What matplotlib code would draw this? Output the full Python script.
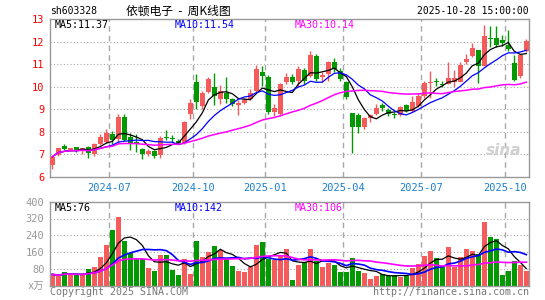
import matplotlib
matplotlib.use('Agg')
import matplotlib.pyplot as plt
import numpy as np
import pandas as pd

# weekly candles, 2024-04-22 .. 2025-10-27 (index = week number)
opens = [6.53, 6.97, 7.37, 7.20, 7.31, 7.13, 7.33, 7.04, 7.45, 7.56,
         7.92, 7.68, 8.67, 7.78, 7.56, 7.22, 7.04, 7.15, 6.97, 7.75,
         7.71, 7.60, 7.52, 8.79, 10.22, 9.13, 9.78, 9.97, 9.45, 9.70,
         9.45, 9.20, 9.30, 9.45, 9.80, 10.64, 10.41, 8.86, 8.80, 10.20,
         10.41, 10.27, 10.75, 10.46, 11.37, 10.45, 10.56, 11.10, 10.70, 10.22,
         8.85, 8.74, 8.20, 8.60, 8.79, 9.19, 8.96, 8.79, 8.74, 9.19,
         8.94, 9.13, 9.57, 10.16, 10.24, 10.10, 10.12, 10.22, 10.22, 11.11,
         11.36, 11.62, 10.93, 12.15, 12.17, 12.05, 11.85, 11.03, 10.47, 11.60]
closes = [6.90, 7.27, 7.24, 7.27, 7.15, 7.27, 7.07, 7.48, 7.78, 7.93,
          7.63, 8.64, 7.66, 7.46, 7.46, 7.04, 7.15, 6.93, 7.71, 7.72,
          7.68, 7.52, 8.43, 9.28, 9.31, 9.70, 10.35, 9.57, 9.82, 9.45,
          9.25, 9.30, 9.42, 9.72, 10.80, 10.46, 8.90, 9.04, 10.10, 10.44,
          10.22, 10.78, 10.27, 11.40, 10.34, 10.52, 11.08, 10.78, 10.34, 9.53,
          8.23, 8.23, 8.62, 8.74, 9.07, 9.04, 8.79, 8.76, 9.08, 8.94,
          9.31, 9.57, 10.16, 10.22, 10.20, 10.07, 10.37, 10.37, 10.96, 11.25,
          11.70, 10.92, 12.26, 12.10, 11.85, 11.95, 11.65, 10.30, 11.40, 12.04]
highs = [6.92, 7.30, 7.46, 7.30, 7.35, 7.30, 7.36, 7.50, 7.90, 8.12,
         8.05, 8.79, 8.77, 7.93, 7.89, 7.30, 7.25, 7.20, 7.80, 8.08,
         7.85, 7.70, 8.48, 9.45, 10.56, 9.80, 10.45, 10.60, 10.07, 10.41,
         9.50, 9.40, 9.50, 9.90, 10.96, 10.93, 10.50, 9.23, 10.15, 10.60,
         10.55, 10.93, 10.85, 11.60, 11.45, 10.65, 11.15, 11.25, 10.85, 10.27,
         8.85, 8.85, 8.67, 8.80, 9.23, 9.26, 9.04, 8.90, 9.13, 9.25,
         9.57, 9.72, 10.26, 10.70, 10.37, 10.27, 11.08, 10.74, 11.10, 11.47,
         11.95, 11.62, 12.73, 12.70, 12.70, 12.30, 12.50, 11.40, 11.45, 12.10]
lows = [6.35, 6.95, 7.20, 7.15, 7.12, 7.03, 6.85, 6.92, 7.40, 7.50,
        7.45, 7.56, 7.60, 7.20, 7.12, 6.78, 6.95, 6.85, 6.85, 7.63,
        7.55, 7.45, 7.48, 8.57, 9.00, 9.00, 9.70, 9.19, 9.23, 9.30,
        9.15, 8.75, 9.25, 9.40, 9.75, 10.05, 8.80, 8.69, 8.70, 10.10,
        10.12, 10.00, 10.12, 10.42, 10.27, 10.20, 10.27, 10.64, 10.27, 9.45,
        7.07, 7.96, 8.12, 8.45, 8.74, 8.94, 8.70, 8.60, 8.70, 8.90,
        8.90, 9.10, 9.48, 9.50, 10.05, 9.97, 10.10, 10.00, 10.20, 11.00,
        11.30, 10.15, 10.90, 11.75, 11.75, 11.80, 11.60, 10.25, 10.40, 11.55]
# volume, x10k lots
volumes = [54, 46, 65, 54, 54, 49, 79, 89, 136, 194,
           265, 329, 213, 157, 132, 127, 84, 70, 146, 146,
           75, 51, 127, 56, 213, 136, 162, 189, 168, 132,
           94, 70, 65, 87, 194, 208, 127, 122, 141, 175,
           27, 98, 111, 175, 117, 89, 108, 98, 65, 65,
           132, 71, 60, 32, 46, 56, 46, 51, 43, 46,
           84, 103, 141, 165, 132, 89, 184, 89, 136, 175,
           165, 151, 303, 232, 222, 51, 70, 117, 98, 70]

month_pos = [9.5, 23.5, 35.5, 48.5, 61.5, 75.5]
month_labels = ['2024-07', '2024-10', '2025-01', '2025-04', '2025-07', '2025-10']

RED = '#f65b5b'
GREEN = '#009900'
GRID = '#a8a8a8'
MONO = 'DejaVu Sans Mono'

o = np.array(opens); c = np.array(closes)
h = np.array(highs); l = np.array(lows)
v = np.array(volumes)
x = np.arange(len(c))
up = c >= o
colors = np.where(up, RED, GREEN)

close_s = pd.Series(c)
vol_s = pd.Series(v, dtype=float)
ma = {n: close_s.rolling(n, min_periods=1).mean() for n in (5, 10, 30)}
vma = {n: vol_s.rolling(n, min_periods=1).mean() for n in (5, 10, 30)}

fig = plt.figure(figsize=(5.45, 3.0), dpi=100)
ax1 = fig.add_axes([50/545, 1-177/300, 479/545, 158/300])
ax2 = fig.add_axes([50/545, 1-285.7/300, 479/545, 84/300])

for ax in (ax1, ax2):
    ax.set_xlim(-0.4, 79.45)
    for s in ax.spines.values():
        s.set_color('#999999')
        s.set_linewidth(1)
    for p in month_pos:
        ax.axvline(p, color=GRID, lw=1, ls=(0, (4, 3)), zorder=0)

# price panel
ax1.set_ylim(6, 13)
for yv in range(7, 13):
    ax1.axhline(yv, color=GRID, lw=0.8, ls=(0, (1, 2)), zorder=0)
ax1.vlines(x, l, h, colors=colors, lw=1, zorder=2)
body = np.maximum(np.abs(c - o), 0.025)
ax1.bar(x, body, bottom=np.minimum(o, c), width=0.8, color=colors, zorder=3)
ax1.plot(x, ma[5], color='black', lw=0.9, zorder=4)
ax1.plot(x, ma[10], color='#0000ff', lw=0.9, zorder=4)
ax1.plot(x, ma[30], color='#ff00ff', lw=1.1, zorder=4)
ax1.set_yticks(range(6, 14))
ax1.set_yticklabels([str(t) for t in range(6, 14)], color='red', fontsize=7.5, family=MONO)
ax1.set_xticks(month_pos)
ax1.set_xticklabels(month_labels, color='#1a7fd0', fontsize=7.5, family=MONO)
ax1.tick_params(length=0, pad=4)

ax1.text(0.01, 0.995, 'MA5:11.37', transform=ax1.transAxes, va='top', ha='left',
         fontsize=7.2, family=MONO, color='black')
ax1.text(0.26, 0.995, 'MA10:11.54', transform=ax1.transAxes, va='top', ha='left',
         fontsize=7.2, family=MONO, color='#0000ff')
ax1.text(0.51, 0.995, 'MA30:10.14', transform=ax1.transAxes, va='top', ha='left',
         fontsize=7.2, family=MONO, color='#ff00ff')
ax1.text(0.985, 0.17, 'sina', transform=ax1.transAxes, va='center', ha='right',
         fontsize=11, fontweight='bold', style='italic', color='#d0d0d0', zorder=1)

# volume panel
ax2.set_ylim(0, 400)
for yv in (80, 160, 240, 320):
    ax2.axhline(yv, color=GRID, lw=0.8, ls=(0, (1, 2)), zorder=0)
ax2.bar(x, v, width=0.8, color=colors, zorder=2)
ax2.plot(x, vma[5], color='black', lw=0.9, zorder=4)
ax2.plot(x, vma[10], color='#0000ff', lw=1.2, zorder=4)
ax2.plot(x, vma[30], color='#ff00ff', lw=1.2, zorder=4)
ax2.set_yticks([0, 80, 160, 240, 320, 400])
ax2.set_yticklabels(['x万', '80', '160', '240', '320', '400'], color='#999999',
                    fontsize=7.5, family=[MONO, 'Noto Sans CJK SC'])
ax2.set_xticks([])
ax2.tick_params(length=0, pad=4)
ax2.text(0.01, 0.99, 'MA5:76', transform=ax2.transAxes, va='top', ha='left',
         fontsize=7.2, family=MONO, color='black')
ax2.text(0.26, 0.99, 'MA10:142', transform=ax2.transAxes, va='top', ha='left',
         fontsize=7.2, family=MONO, color='#0000ff')
ax2.text(0.51, 0.99, 'MA30:106', transform=ax2.transAxes, va='top', ha='left',
         fontsize=7.2, family=MONO, color='#ff00ff')

# header / footer
fig.text(50/545, 1-11/300, 'sh603328', fontsize=7, family=MONO, va='center', ha='left')
fig.text(178/545, 1-11/300, '依顿电子  -  周K线图', fontsize=8.5, va='center', ha='center',
         family=['Noto Sans CJK SC', MONO])
fig.text(529/545, 1-11/300, '2025-10-28 15:00:00', fontsize=7, family=MONO,
         va='center', ha='right')
fig.text(50/545, 1-292/300, 'Copyright 2025 SINA.COM', fontsize=7.2, family=MONO,
         color='#777777', va='center', ha='left')
fig.text(529/545, 1-292/300, 'http://finance.sina.com.cn', fontsize=7.2, family=MONO,
         color='#777777', va='center', ha='right')

fig.savefig('out.png', dpi=100)
